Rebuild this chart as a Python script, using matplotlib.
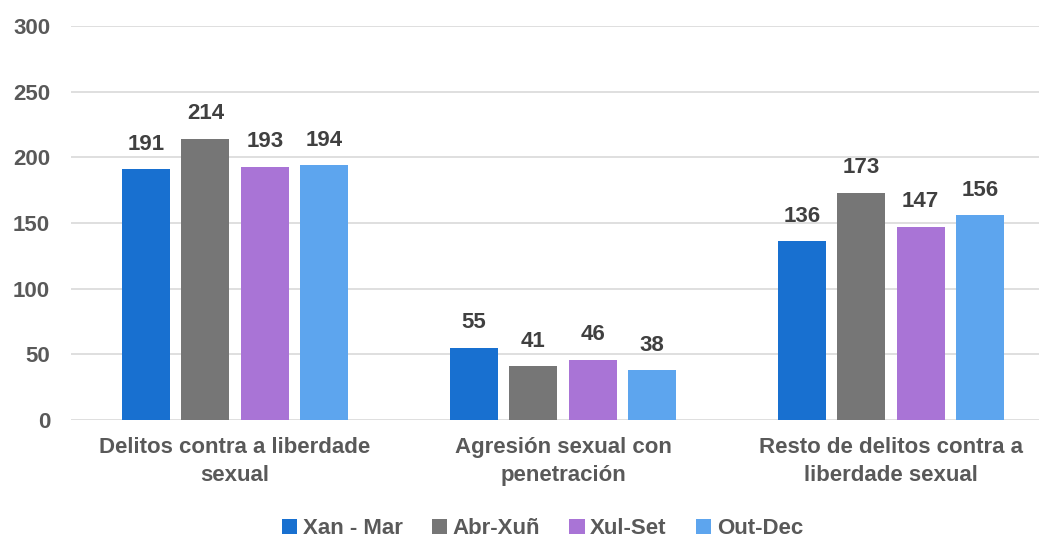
import matplotlib.pyplot as plt
import numpy as np

categories = ['Delitos contra a liberdade\nsexual', 'Agresión sexual con\npenetración',
              'Resto de delitos contra a\nliberdade sexual']
series_names = ['Xan - Mar', 'Abr-Xuñ', 'Xul-Set', 'Out-Dec']
xan_mar = [191, 55, 136]
abr_xun = [214, 41, 173]
xul_set = [193, 46, 147]
out_dec = [194, 38, 156]
colors = ['#1870D0', '#767676', '#A974D6', '#5DA5EE']

plt.rcParams['font.family'] = ['Liberation Sans', 'DejaVu Sans']
plt.rcParams['font.weight'] = 'bold'

fig = plt.figure(figsize=(10.39, 5.40), dpi=100)
ax = fig.add_axes([71 / 1039, 1 - 420 / 540, 968 / 1039, 394 / 540])

x = np.arange(len(categories))
step = 0.181
width = 0.146
for i, (vals, name) in enumerate(zip([xan_mar, abr_xun, xul_set, out_dec], series_names)):
    pos = x + (i - 1.5) * step
    ax.bar(pos, vals, width, color=colors[i], label=name, zorder=3)
    for p, v in zip(pos, vals):
        ax.text(p, v + 11, str(v), ha='center', va='bottom', fontsize=16,
                fontweight='bold', color='#404040')

ax.set_ylim(0, 300)
ax.set_xlim(-0.5, 2.451)
ax.set_yticks(range(0, 301, 50))
ax.yaxis.grid(True, color='#D9D9D9', linewidth=1.2, zorder=0)
for s in ax.spines.values():
    s.set_visible(False)
ax.tick_params(axis='y', length=0, pad=15, labelsize=16, labelcolor='#595959')
ax.tick_params(axis='x', length=0, pad=12, labelsize=16, labelcolor='#595959')
ax.set_xticks(x)
ax.set_xticklabels(categories, fontweight='bold', linespacing=1.45)

fig.legend(loc='lower center', bbox_to_anchor=(0.522, -0.036), ncol=4, frameon=False,
           fontsize=16, handlelength=0.7, handleheight=0.7, handletextpad=0.25,
           columnspacing=1.3, labelcolor='#595959')

fig.savefig('out.png', dpi=100)
